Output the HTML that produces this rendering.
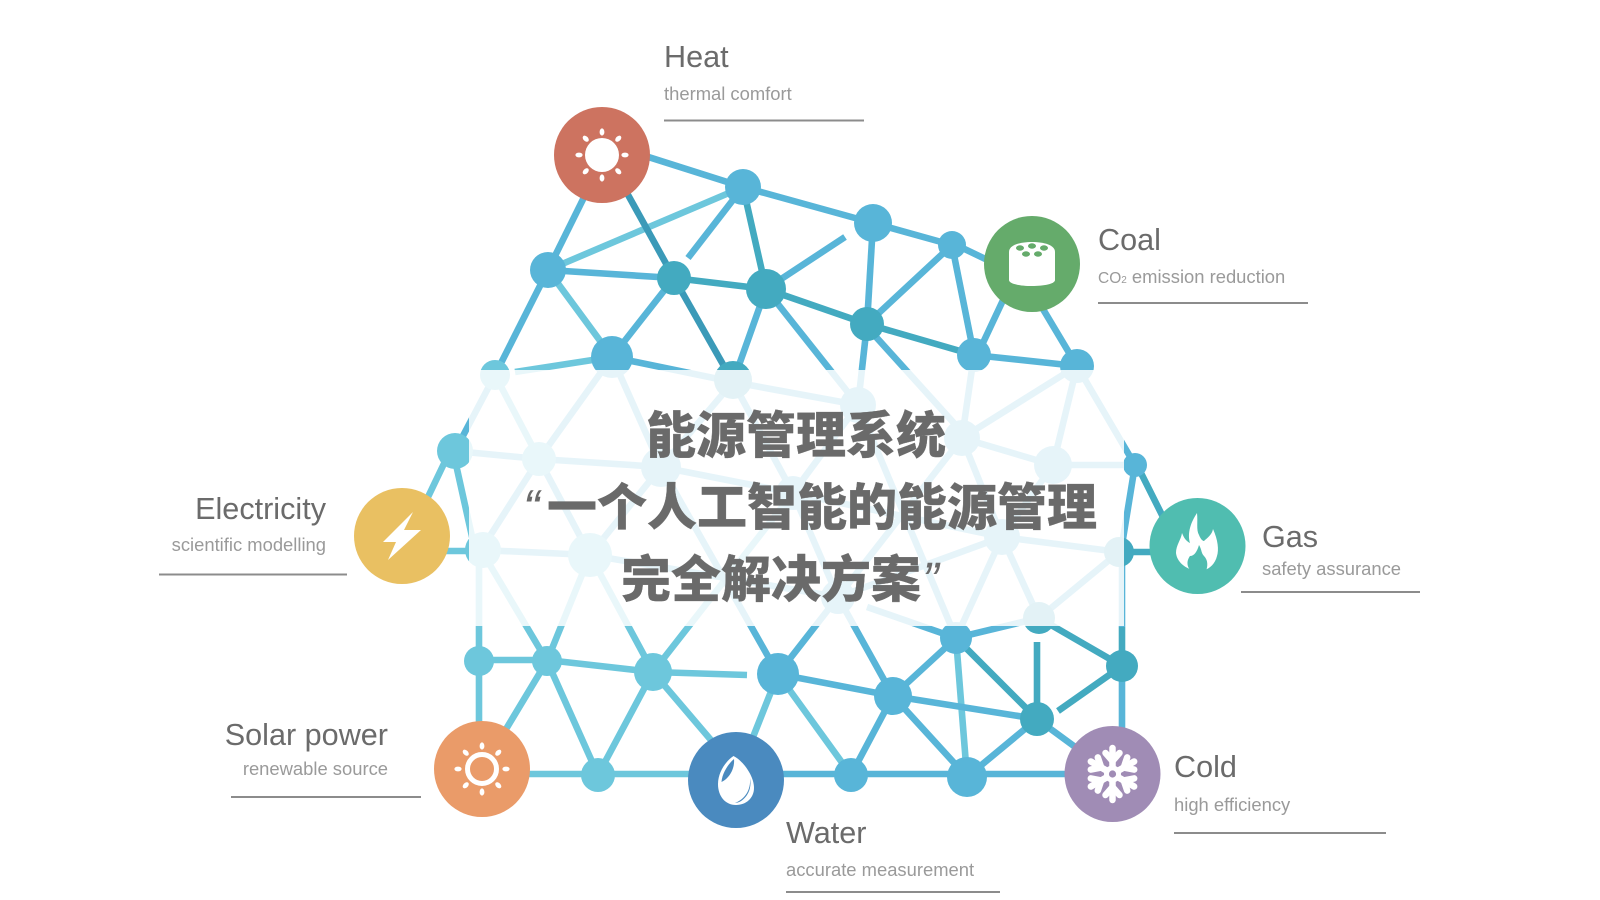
<!DOCTYPE html>
<html><head><meta charset="utf-8"><style>
html,body{margin:0;padding:0;background:#fff;width:1600px;height:900px;overflow:hidden}
svg{display:block}
.t{font:30.6px "Liberation Sans",sans-serif;fill:#6b6b6b}
.s{font:18.4px "Liberation Sans",sans-serif;fill:#9a9a9a}
.c{font:900 50px "Liberation Sans","Noto Sans CJK SC",sans-serif;fill:#6a6a6a;stroke:#6a6a6a;stroke-width:.3px}
.q{font:italic 400 50px "Liberation Sans",sans-serif;fill:#6a6a6a}
.m line{stroke:#58b5d8}.l line{stroke:#6dc7dc}.k line{stroke:#43aac0}.d line{stroke:#3b9ab8}
.e line{stroke-width:6.6}
.u line{stroke:#8c8c8c;stroke-width:2}
</style></head><body>
<svg width="1600" height="900" viewBox="0 0 1600 900" xmlns="http://www.w3.org/2000/svg">
<g class="e">
<g class="l">
<line x1="548" y1="270" x2="743" y2="187"/><line x1="548" y1="270" x2="612" y2="357"/><line x1="515" y1="372" x2="612" y2="357"/>
<line x1="495" y1="375" x2="539" y2="459"/><line x1="450" y1="451" x2="417" y2="520"/><line x1="453" y1="451" x2="475" y2="550"/><line x1="402" y1="551" x2="483" y2="551"/>
<line x1="479" y1="550" x2="479" y2="770"/><line x1="481" y1="550" x2="547" y2="661"/><line x1="590" y1="555" x2="547" y2="661"/><line x1="590" y1="555" x2="653" y2="672"/>
<line x1="479" y1="660" x2="547" y2="660"/><line x1="547" y1="660" x2="653" y2="672"/><line x1="653" y1="672" x2="747" y2="675"/>
<line x1="547" y1="661" x2="482" y2="769"/><line x1="547" y1="661" x2="598" y2="775"/><line x1="653" y1="672" x2="598" y2="775"/><line x1="653" y1="672" x2="745" y2="780"/>
<line x1="482" y1="774" x2="736" y2="774"/><line x1="653" y1="672" x2="793" y2="493"/>
<line x1="778" y1="674" x2="736" y2="780"/><line x1="778" y1="674" x2="851" y2="775"/>
<line x1="956" y1="638" x2="967" y2="777"/>
</g>
<g class="m">
<line x1="620" y1="148" x2="743" y2="187"/><line x1="600" y1="165" x2="548" y2="270"/><line x1="743" y1="187" x2="688" y2="258"/><line x1="743" y1="187" x2="873" y2="223"/>
<line x1="873" y1="223" x2="952" y2="245"/><line x1="952" y1="243" x2="1000" y2="266"/><line x1="548" y1="270" x2="674" y2="278"/><line x1="548" y1="270" x2="495" y2="375"/>
<line x1="674" y1="278" x2="612" y2="357"/><line x1="766" y1="289" x2="733" y2="382"/><line x1="766" y1="289" x2="858" y2="405"/><line x1="766" y1="289" x2="845" y2="237"/>
<line x1="873" y1="223" x2="867" y2="324"/><line x1="952" y1="245" x2="867" y2="324"/><line x1="952" y1="245" x2="974" y2="355"/><line x1="1020" y1="264" x2="974" y2="362"/><line x1="1016" y1="264" x2="1077" y2="366"/>
<line x1="974" y1="355" x2="1077" y2="366"/><line x1="867" y1="324" x2="858" y2="405"/><line x1="867" y1="327" x2="962" y2="432"/><line x1="974" y1="355" x2="962" y2="438"/>
<line x1="1077" y1="366" x2="962" y2="438"/><line x1="1077" y1="366" x2="1053" y2="465"/><line x1="1077" y1="366" x2="1135" y2="465"/>
<line x1="612" y1="357" x2="733" y2="382"/><line x1="733" y1="382" x2="858" y2="405"/><line x1="612" y1="357" x2="539" y2="459"/><line x1="612" y1="357" x2="661" y2="467"/>
<line x1="733" y1="382" x2="661" y2="467"/><line x1="733" y1="382" x2="793" y2="493"/><line x1="495" y1="375" x2="455" y2="451"/><line x1="858" y1="405" x2="793" y2="493"/><line x1="858" y1="405" x2="956" y2="638"/>
<line x1="455" y1="451" x2="539" y2="459"/><line x1="539" y1="459" x2="661" y2="467"/><line x1="539" y1="459" x2="481" y2="550"/><line x1="539" y1="459" x2="590" y2="555"/>
<line x1="661" y1="467" x2="590" y2="555"/><line x1="661" y1="467" x2="793" y2="493"/><line x1="661" y1="467" x2="778" y2="674"/><line x1="481" y1="550" x2="590" y2="555"/>
<line x1="590" y1="555" x2="838" y2="597"/><line x1="793" y1="493" x2="1002" y2="537"/><line x1="793" y1="493" x2="838" y2="597"/><line x1="838" y1="597" x2="962" y2="438"/><line x1="838" y1="597" x2="1002" y2="537"/>
<line x1="962" y1="438" x2="1053" y2="465"/><line x1="962" y1="438" x2="1002" y2="537"/><line x1="1053" y1="465" x2="1135" y2="465"/><line x1="1053" y1="465" x2="1002" y2="537"/>
<line x1="1002" y1="537" x2="1119" y2="552"/><line x1="1002" y1="537" x2="956" y2="638"/><line x1="1002" y1="537" x2="1039" y2="618"/><line x1="1119" y1="552" x2="1039" y2="618"/>
<line x1="838" y1="597" x2="778" y2="674"/><line x1="838" y1="597" x2="893" y2="696"/><line x1="867" y1="607" x2="956" y2="638"/>
<line x1="1135" y1="465" x2="1122" y2="545"/><line x1="1122" y1="545" x2="1122" y2="627"/>
<line x1="956" y1="638" x2="893" y2="696"/><line x1="956" y1="638" x2="1039" y2="618"/><line x1="778" y1="674" x2="893" y2="696"/><line x1="893" y1="696" x2="1037" y2="719"/>
<line x1="893" y1="696" x2="851" y2="775"/><line x1="893" y1="696" x2="967" y2="777"/><line x1="1037" y1="719" x2="967" y2="777"/><line x1="1037" y1="719" x2="1112" y2="774"/>
<line x1="1122" y1="666" x2="1122" y2="740"/><line x1="736" y1="774" x2="1112" y2="774"/>
</g>
<g class="k">
<line x1="743" y1="187" x2="766" y2="289"/><line x1="674" y1="278" x2="766" y2="289"/><line x1="766" y1="289" x2="867" y2="324"/><line x1="867" y1="324" x2="974" y2="355"/>
<line x1="1135" y1="461" x2="1175" y2="541"/><line x1="1119" y1="552" x2="1197" y2="552"/><line x1="1122" y1="627" x2="1122" y2="666"/>
<line x1="956" y1="638" x2="1037" y2="719"/><line x1="1037" y1="642" x2="1037" y2="719"/><line x1="1058" y1="711" x2="1122" y2="666"/><line x1="1039" y1="618" x2="1122" y2="666"/>
</g>
<g class="d"><line x1="606" y1="155" x2="674" y2="278"/><line x1="674" y1="278" x2="733" y2="382"/></g>
</g>
<g fill="#58b5d8">
<circle cx="743" cy="187" r="18"/><circle cx="873" cy="223" r="19"/><circle cx="952" cy="245" r="14"/><circle cx="548" cy="270" r="18"/><circle cx="612" cy="357" r="21"/><circle cx="974" cy="355" r="17"/><circle cx="1077" cy="366" r="17"/><circle cx="1135" cy="465" r="12"/><circle cx="778" cy="674" r="21"/><circle cx="893" cy="696" r="19"/><circle cx="956" cy="638" r="16"/><circle cx="851" cy="775" r="17"/><circle cx="967" cy="777" r="20"/>
<circle cx="858" cy="405" r="18"/><circle cx="962" cy="438" r="18"/><circle cx="1053" cy="465" r="19"/><circle cx="661" cy="467" r="20"/><circle cx="793" cy="493" r="17"/><circle cx="1002" cy="537" r="18"/><circle cx="838" cy="597" r="17"/>
</g>
<g fill="#6dc7dc">
<circle cx="495" cy="375" r="15"/><circle cx="455" cy="451" r="18"/><circle cx="539" cy="459" r="17"/><circle cx="483" cy="550" r="18"/><circle cx="590" cy="555" r="22"/><circle cx="479" cy="661" r="15"/><circle cx="547" cy="661" r="15"/><circle cx="653" cy="672" r="19"/><circle cx="598" cy="775" r="17"/>
</g>
<g fill="#43aac0">
<circle cx="674" cy="278" r="17"/><circle cx="766" cy="289" r="20"/><circle cx="867" cy="324" r="17"/><circle cx="733" cy="380" r="19"/><circle cx="1119" cy="552" r="15"/><circle cx="1039" cy="618" r="16"/><circle cx="1122" cy="666" r="16"/><circle cx="1037" cy="719" r="17"/>
</g>
<rect x="469" y="370" width="655" height="256" fill="#fff" fill-opacity=".85"/>

<circle cx="602" cy="155" r="48" fill="#cd7360"/>
<circle cx="1032" cy="264" r="48" fill="#65ab6b"/>
<circle cx="402" cy="536" r="48" fill="#e9c062"/>
<circle cx="1197.5" cy="546" r="48" fill="#50bdb0"/>
<circle cx="482" cy="769" r="48" fill="#ea9b69"/>
<circle cx="736" cy="780" r="48" fill="#4a8abf"/>
<circle cx="1112.5" cy="774" r="48" fill="#a08cb5"/>

<g fill="#fff">
<circle cx="602" cy="155" r="17"/>
<g><ellipse cx="602" cy="132" rx="2.4" ry="3.6"/><ellipse cx="602" cy="178" rx="2.4" ry="3.6"/><ellipse cx="579" cy="155" rx="3.6" ry="2.4"/><ellipse cx="625" cy="155" rx="3.6" ry="2.4"/></g>
<g transform="rotate(45 602 155)"><ellipse cx="602" cy="132" rx="2.4" ry="3.6"/><ellipse cx="602" cy="178" rx="2.4" ry="3.6"/><ellipse cx="579" cy="155" rx="3.6" ry="2.4"/><ellipse cx="625" cy="155" rx="3.6" ry="2.4"/></g>
<path d="M1009 252C1009 245 1020 242 1032 242C1044 242 1055 245 1055 252L1055 280C1055 288 1009 288 1009 280Z"/>
<polygon points="413,512 404,530 421,530 388,560 396,542 383,542"/>
<path d="M1197 513C1198 522 1196 530 1199 535C1201 540 1203 541 1204 541C1207 538 1212 535 1213 529C1218 540 1219 550 1217 556C1215 564 1210 568 1205 570L1193 570C1185 568 1177 562 1176 553C1176 545 1181 540 1182 533C1184 538 1186 541 1190 543C1187 533 1191 522 1197 513Z"/>
<g transform="translate(482 769)"><ellipse cx="0" cy="-23" rx="2.4" ry="3.6"/><ellipse cx="0" cy="23" rx="2.4" ry="3.6"/><ellipse cx="-24" cy="0" rx="3.6" ry="2.4"/><ellipse cx="24" cy="0" rx="3.6" ry="2.4"/>
<g transform="rotate(45)"><ellipse cx="0" cy="-23" rx="2.4" ry="3.6"/><ellipse cx="0" cy="23" rx="2.4" ry="3.6"/><ellipse cx="-23" cy="0" rx="3.6" ry="2.4"/><ellipse cx="23" cy="0" rx="3.6" ry="2.4"/></g></g>
<path d="M733.5 756C742 760 754 775 754 788C754 798 746 805 736 805C725 805 718 796 718 784C718 772 726 761 733.5 756Z"/>
</g>
<circle cx="482" cy="769" r="14.5" fill="none" stroke="#fff" stroke-width="5"/>
<g fill="#65ab6b"><ellipse cx="1020" cy="248" rx="4" ry="2.7"/><ellipse cx="1032" cy="246" rx="4" ry="2.7"/><ellipse cx="1044" cy="248" rx="4" ry="2.7"/><ellipse cx="1026" cy="254" rx="4" ry="2.7"/><ellipse cx="1038" cy="254" rx="4" ry="2.7"/></g>
<path d="M1191 571C1186 566 1187 560 1190 556C1194 556 1197 552 1199 545C1202 550 1201 553 1204 556C1208 560 1208 566 1206 571Z" fill="#50bdb0"/>
<path d="M734 759C729 763 722 773 721.5 782C728 779 735 770 734 759Z" fill="#4a8abf"/>
<path d="M750 778C751 790 745 799 735 803C742 803 753 793 750 778Z" fill="#4a8abf"/>
<g stroke="#fff" stroke-width="6.5" fill="none" stroke-linecap="round" transform="translate(1112.5 774)">
<g><line y1="-4" y2="-26"/><line x1="-7" y1="-21" y2="-13"/><line x1="7" y1="-21" y2="-13"/></g>
<g transform="rotate(60)"><line y1="-4" y2="-25"/><line x1="-7" y1="-21" y2="-13"/><line x1="7" y1="-21" y2="-13"/></g>
<g transform="rotate(120)"><line y1="-4" y2="-25"/><line x1="-7" y1="-21" y2="-13"/><line x1="7" y1="-21" y2="-13"/></g>
<g transform="rotate(180)"><line y1="-4" y2="-26"/><line x1="-7" y1="-21" y2="-13"/><line x1="7" y1="-21" y2="-13"/></g>
<g transform="rotate(240)"><line y1="-4" y2="-25"/><line x1="-7" y1="-21" y2="-13"/><line x1="7" y1="-21" y2="-13"/></g>
<g transform="rotate(300)"><line y1="-4" y2="-25"/><line x1="-7" y1="-21" y2="-13"/><line x1="7" y1="-21" y2="-13"/></g>
<circle r="6" stroke-width="5"/>
</g>
<circle cx="1112.5" cy="774" r="3.6" fill="#a08cb5"/>

<text class="c" x="646" y="453">能源管理系统</text>
<text class="q" x="523" y="525">“</text>
<text class="c" x="547" y="525">一个人工智能的能源管理</text>
<text class="c" x="621" y="597">完全解决方案</text>
<text class="q" x="922" y="597">”</text>

<text class="t" x="664" y="67">Heat</text><text class="s" x="664" y="100">thermal comfort</text>
<text class="t" x="1098" y="250">Coal</text><text class="s" x="1098" y="283"><tspan font-size="15.5">CO</tspan><tspan font-size="10">2</tspan> emission reduction</text>
<text class="t" x="326" y="519" text-anchor="end">Electricity</text><text class="s" x="326" y="551" text-anchor="end">scientific modelling</text>
<text class="t" x="1262" y="547">Gas</text><text class="s" x="1262" y="575">safety assurance</text>
<text class="t" x="388" y="745" text-anchor="end">Solar power</text><text class="s" x="388" y="775" text-anchor="end">renewable source</text>
<text class="t" x="786" y="843">Water</text><text class="s" x="786" y="876">accurate measurement</text>
<text class="t" x="1174" y="777">Cold</text><text class="s" x="1174" y="811">high efficiency</text>
<g class="u">
<line x1="664" y1="120.5" x2="864" y2="120.5"/><line x1="1098" y1="303" x2="1308" y2="303"/><line x1="159" y1="574.5" x2="347" y2="574.5"/><line x1="1241" y1="592" x2="1420" y2="592"/><line x1="231" y1="797" x2="421" y2="797"/><line x1="786" y1="892" x2="1000" y2="892"/><line x1="1174" y1="833" x2="1386" y2="833"/>
</g>
</svg>
</body></html>
